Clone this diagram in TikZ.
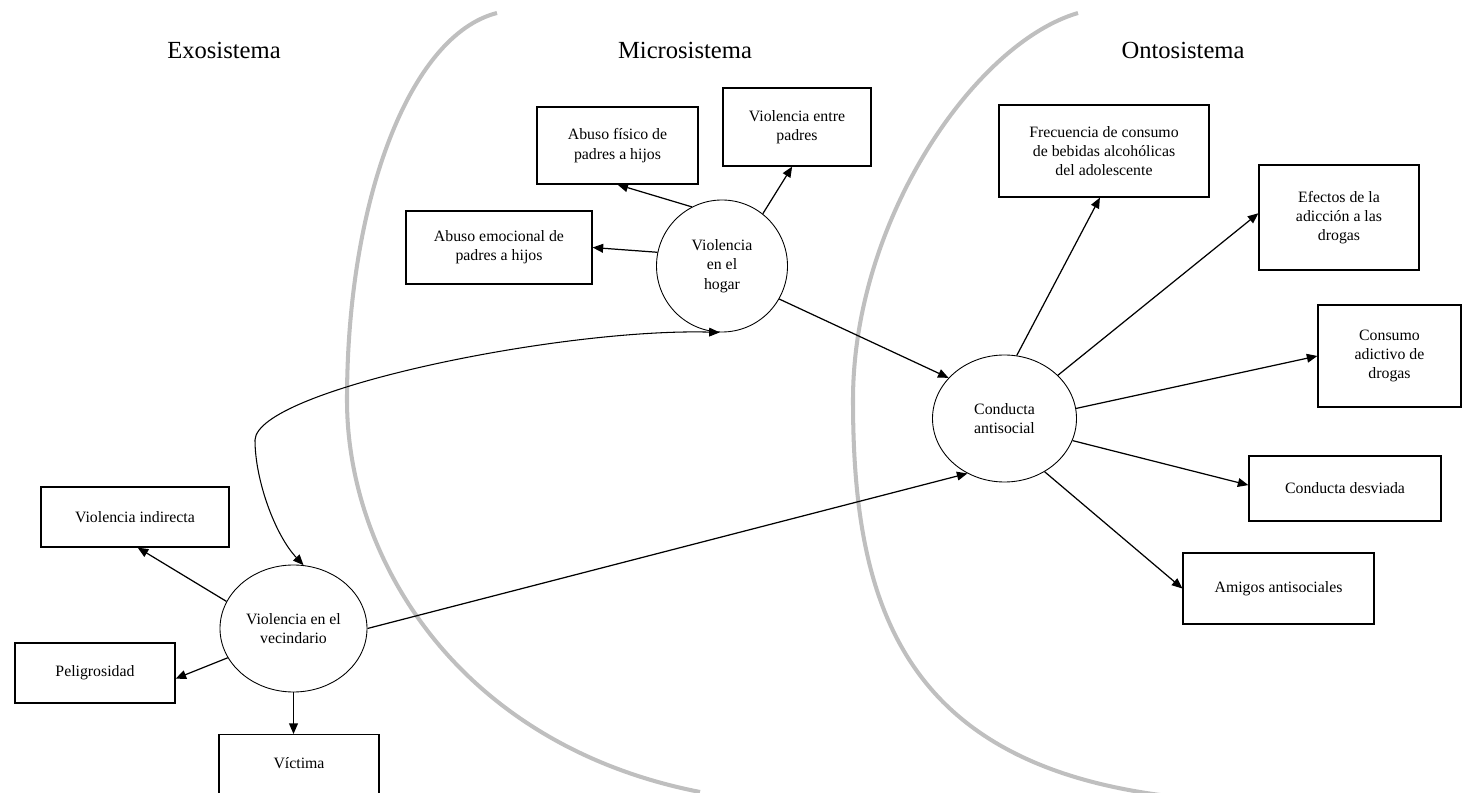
\documentclass[tikz,border=0pt]{standalone}
\usepackage{fontspec}
\setmainfont{Liberation Serif}
\usetikzlibrary{shapes.geometric,arrows.meta}

\tikzset{
  caja/.style={draw, line width=0.7pt, align=center, font=\fontsize{9}{11}\selectfont},
  elipse/.style={draw, ellipse, line width=0.5pt, align=center, inner sep=0pt, font=\fontsize{9}{11}\selectfont},
  flecha/.style={-{Triangle[length=6pt,width=5pt]}, line width=0.7pt},
  arco/.style={black!25, line width=2.3pt},
  titulo/.style={font=\fontsize{14}{16}\selectfont}
}

\begin{document}
\begin{tikzpicture}
\clip (0,0) rectangle (29.26,15.84);

% limites entre sistemas
\draw[arco] (9.94,15.58) .. controls (8.20,15.14) and (6.94,11.84) .. (6.94,7.84) .. controls (6.94,4.64) and (9.20,0.94) .. (14.00,0.00);
\draw[arco] (21.56,15.58) .. controls (19.50,14.98) and (17.06,11.44) .. (17.06,7.84) .. controls (17.06,3.84) and (18.00,0.64) .. (23.20,-0.06);

\node[titulo] (exo) at (4.48,14.84) {Exosistema};
\node[titulo] (micro) at (13.70,14.84) {Microsistema};
\node[titulo] (onto) at (23.66,14.84) {Ontosistema};

% microsistema
\node[caja, minimum width=3.22cm, minimum height=1.54cm] (fisico) at (12.35,12.93) {Abuso físico de\\padres a hijos};
\node[caja, minimum width=2.96cm, minimum height=1.56cm] (padres) at (15.94,13.30) {Violencia entre\\padres};
\node[caja, minimum width=3.72cm, minimum height=1.46cm] (emocional) at (9.98,10.89) {Abuso emocional de\\padres a hijos};
\node[elipse, minimum width=2.62cm, minimum height=2.64cm] (hogar) at (14.44,10.52) {Violencia\\en el\\hogar};

% ontosistema
\node[caja, minimum width=4.2cm, minimum height=1.84cm] (frecuencia) at (22.08,12.82) {Frecuencia de consumo\\de bebidas alcohólicas\\del adolescente};
\node[caja, minimum width=3.2cm, minimum height=2.1cm] (efectos) at (26.78,11.49) {Efectos de la\\adicción a las\\drogas};
\node[caja, minimum width=2.86cm, minimum height=2.04cm] (consumo) at (27.79,8.72) {Consumo\\adictivo de\\drogas};
\node[caja, minimum width=3.84cm, minimum height=1.3cm] (desviada) at (26.9,6.07) {Conducta desviada};
\node[caja, minimum width=3.82cm, minimum height=1.42cm] (amigos) at (25.57,4.07) {Amigos antisociales};
\node[elipse, minimum width=2.88cm, minimum height=2.54cm] (conducta) at (20.09,7.47) {Conducta\\antisocial};

% exosistema
\node[caja, minimum width=3.76cm, minimum height=1.2cm] (indirecta) at (2.70,5.50) {Violencia indirecta};
\node[caja, minimum width=3.2cm, minimum height=1.2cm] (peligro) at (1.90,2.38) {Peligrosidad};
\node[elipse, minimum width=2.94cm, minimum height=2.54cm] (vecindario) at (5.87,3.27) {Violencia en el\\vecindario};
\node[caja, anchor=north, minimum width=3.2cm, minimum height=1.4cm, text depth=0.25cm] (victima) at (5.98,1.16) {Víctima};

% flechas
\draw[flecha] (hogar.117) -- (fisico.south);
\draw[flecha] (hogar.52) -- (padres.-97);
\draw[flecha] (hogar.168) -- (emocional.east);
\draw[flecha] (hogar.-30) -- (conducta.144);
\draw[flecha] (vecindario.east) -- (conducta.-124);
\draw[flecha] (vecindario.158) -- (indirecta.-85);
\draw[flecha] (vecindario.204) -- (peligro.-4);
\draw[flecha] (vecindario.south) -- (vecindario.south |- victima.north);
\foreach \a/\b in {79/frecuencia.-95, 39/efectos.177, 8/consumo.west, -18/desviada.178, -53/amigos.west}
  \draw[flecha] (conducta.\a) -- (\b);
\draw[{Triangle[length=6pt,width=5pt]}-{Triangle[length=6pt,width=5pt]}, line width=0.6pt] (vecindario.81) .. controls (5.50,5.14) and (5.10,6.24) .. (5.10,7.04) .. controls (5.14,8.04) and (11.20,9.28) .. (hogar.-92);

\end{tikzpicture}
\end{document}
